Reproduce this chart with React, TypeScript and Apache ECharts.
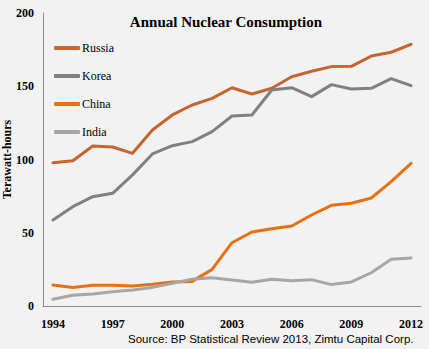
import React, { useEffect, useRef } from "react";
import * as echarts from "echarts";

const years = ["1994","1995","1996","1997","1998","1999","2000","2001","2002","2003","2004","2005","2006","2007","2008","2009","2010","2011","2012"];
const russia = [97.8, 99.2, 109.2, 108.5, 104.2, 120.1, 130.4, 137.2, 141.7, 149.0, 144.7, 148.6, 156.5, 160.2, 163.4, 163.6, 170.6, 173.2, 178.6];
const korea = [58.7, 67.8, 74.6, 76.9, 89.5, 103.8, 109.4, 112.2, 119.0, 129.7, 130.4, 147.4, 149.0, 142.9, 151.1, 148.1, 148.6, 155.2, 150.4];
const china = [14.3, 12.7, 14.1, 14.1, 13.7, 14.8, 16.4, 16.8, 25.0, 43.2, 50.5, 52.8, 54.6, 62.1, 68.7, 70.1, 73.7, 84.9, 97.4];
const india = [4.6, 7.3, 8.2, 9.8, 10.9, 12.7, 15.5, 18.2, 19.3, 17.7, 16.2, 18.2, 17.3, 18.0, 14.6, 16.4, 22.7, 31.9, 32.8];

const seriesDefs = [
  { name: "Russia", data: russia, color: "#C8652F" },
  { name: "Korea", data: korea, color: "#808080" },
  { name: "China", data: china, color: "#E8700F" },
  { name: "India", data: india, color: "#A6A6A6" },
];

const serif = "'Liberation Serif', 'DejaVu Serif', serif";

export default function App() {
  const ref = useRef<HTMLDivElement>(null);
  useEffect(() => {
    if (!ref.current) return;
    const chart = echarts.init(ref.current, null, { renderer: "svg" });
    chart.setOption({
      animation: false,
      backgroundColor: "#F2F2F2",
      title: {
        text: "Annual Nuclear Consumption",
        left: 221,
        top: 9,
        textAlign: "center",
        textStyle: { fontFamily: serif, fontWeight: "bold", fontSize: 15, color: "#000" },
      },
      legend: {
        orient: "vertical",
        left: 49,
        top: 37,
        icon: "roundRect",
        itemWidth: 26,
        itemHeight: 4,
        itemGap: 16,
        textStyle: { fontFamily: serif, fontSize: 12, color: "#000", padding: [0, 0, 0, -3] },
        data: seriesDefs.map((s) => s.name),
      },
      graphic: [
        {
          type: "text",
          left: 128,
          top: 333,
          style: {
            text: "Source: BP Statistical Review 2013, Zimtu Capital Corp.",
            font: "11.5px 'Liberation Sans', Arial, sans-serif",
            fill: "#000",
          },
        },
      ],
      grid: { left: 43, right: 8, top: 13, bottom: 43, containLabel: false, outerBoundsMode: "none" },
      xAxis: {
        type: "category",
        data: years,
        boundaryGap: true,
        axisLine: { lineStyle: { color: "#8C8C8C", width: 1 } },
        axisTick: { show: false },
        axisLabel: {
          interval: 2,
          margin: 12,
          fontFamily: serif,
          fontWeight: "bold",
          fontSize: 12,
          color: "#000",
        },
      },
      yAxis: {
        type: "value",
        min: 0,
        max: 200,
        interval: 50,
        name: "Terawatt-hours",
        nameLocation: "middle",
        nameGap: 30,
        nameMoveOverlap: false,
        nameTextStyle: { fontFamily: serif, fontWeight: "bold", fontSize: 12, color: "#000" },
        axisLine: { show: true, lineStyle: { color: "#8C8C8C", width: 1 } },
        axisTick: { show: false },
        splitLine: { show: false },
        axisLabel: {
          margin: 9,
          fontFamily: serif,
          fontWeight: "bold",
          fontSize: 12,
          color: "#000",
        },
      },
      series: seriesDefs.map((s) => ({
        name: s.name,
        type: "line",
        data: s.data,
        symbol: "none",
        showSymbol: false,
        color: s.color,
        lineStyle: { width: 3, color: s.color, cap: "round", join: "round" },
      })),
    });
    return () => chart.dispose();
  }, []);
  return <div ref={ref} style={{ width: 429, height: 349, position: "absolute", left: 0, top: 0 }} />;
}
